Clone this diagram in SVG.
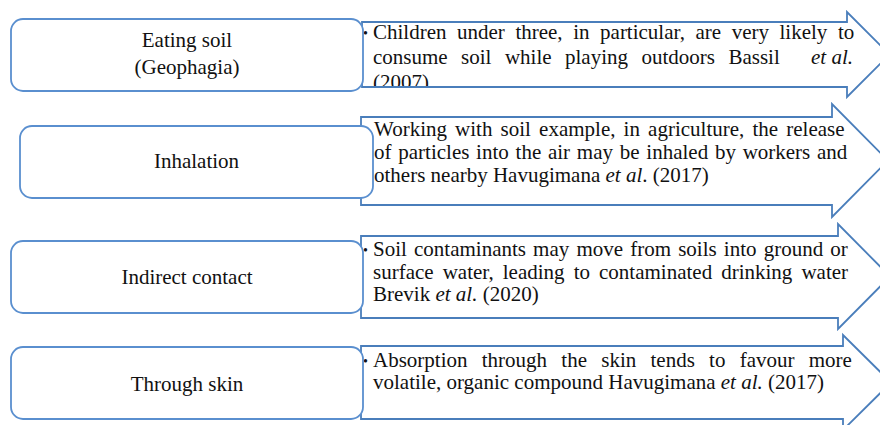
<svg xmlns="http://www.w3.org/2000/svg" width="880" height="425" viewBox="0 0 880 425">
  <style>
    .box { fill: #ffffff; stroke: #5a8fcf; stroke-width: 1.8; }
    .arrow { fill: #ffffff; stroke: #4a7ebb; stroke-width: 1.8; stroke-linejoin: miter; }
    .label { font-family: "Liberation Serif", "Times New Roman", serif; font-size: 21px; fill: #111111; text-anchor: middle; }
    .body { font-family: "Liberation Serif", "Times New Roman", serif; font-size: 21px; fill: #111111; }
    .bullet { font-family: "Liberation Serif", "Times New Roman", serif; font-size: 14px; fill: #111111; }
    .it { font-style: italic; }
  </style>
  <defs>
    <clipPath id="clip-row1">
      <rect x="362" y="22" width="520" height="64"/>
    </clipPath>
  </defs>

  <rect width="880" height="425" fill="#ffffff"/>

  <!-- Route 1: ingestion -->
  <g id="row-eating">
    <polygon class="arrow" points="362,22 847,22 847,12 889.5,54.5 847,97 847,87 362,87"/>
    <g clip-path="url(#clip-row1)">
      <text class="bullet" x="363" y="38">•</text>
      <text class="body" x="373" y="39" word-spacing="5.3">Children under three, in particular, are very likely to</text>
      <text class="body" x="373" y="63.5" word-spacing="8.2">consume soil while playing outdoors Bassil</text>
      <text class="body it" x="853" y="63.5" text-anchor="end">et al.</text>
      <text class="body" x="373" y="88.5">(2007).</text>
    </g>
  </g>
  <g id="node-eating">
    <rect class="box" x="11" y="19" width="352" height="72" rx="12" ry="12"/>
    <text class="label" x="187" y="47">Eating soil</text>
    <text class="label" x="187" y="74">(Geophagia)</text>
  </g>

  <!-- Route 2: inhalation -->
  <g id="row-inhalation">
    <polygon class="arrow" points="361,117 832,117 832,104 888,160.5 832,217 832,205 361,205"/>
    <text class="body" x="374" y="135.5" word-spacing="2.9">Working with soil example, in agriculture, the release</text>
    <text class="body" x="374" y="158.5" word-spacing="1.5">of particles into the air may be inhaled by workers and</text>
    <text class="body" x="374" y="181.5">others nearby Havugimana <tspan class="it">et al</tspan>. (2017)</text>
  </g>
  <g id="node-inhalation">
    <rect class="box" x="20" y="126" width="353" height="72" rx="12" ry="12"/>
    <text class="label" x="196.5" y="168">Inhalation</text>
  </g>

  <!-- Route 3: indirect contact -->
  <g id="row-indirect">
    <polygon class="arrow" points="361,236 838,236 838,224 890,276.5 838,329 838,318 361,318"/>
    <text class="bullet" x="363" y="255">•</text>
    <text class="body" x="373" y="256" word-spacing="1.9">Soil contaminants may move from soils into ground or</text>
    <text class="body" x="373" y="278.5" word-spacing="3.8">surface water, leading to contaminated drinking water</text>
    <text class="body" x="373" y="301">Brevik <tspan class="it">et al.</tspan> (2020)</text>
  </g>
  <g id="node-indirect">
    <rect class="box" x="11" y="241" width="352" height="72" rx="12" ry="12"/>
    <text class="label" x="187" y="284">Indirect contact</text>
  </g>

  <!-- Route 4: dermal -->
  <g id="row-skin">
    <polygon class="arrow" points="361,346 843,346 843,335 891,382.5 843,430 843,419 361,419"/>
    <text class="bullet" x="363" y="366">•</text>
    <text class="body" x="373" y="366.5" word-spacing="9">Absorption through the skin tends to favour more</text>
    <text class="body" x="373" y="388.5">volatile, organic compound Havugimana <tspan class="it">et al.</tspan> (2017)</text>
  </g>
  <g id="node-skin">
    <rect class="box" x="11" y="347" width="352" height="72" rx="12" ry="12"/>
    <text class="label" x="187" y="391">Through skin</text>
  </g>

  <!-- Connectors: none beyond the block arrows drawn above -->
  <g id="connectors"/>
</svg>
